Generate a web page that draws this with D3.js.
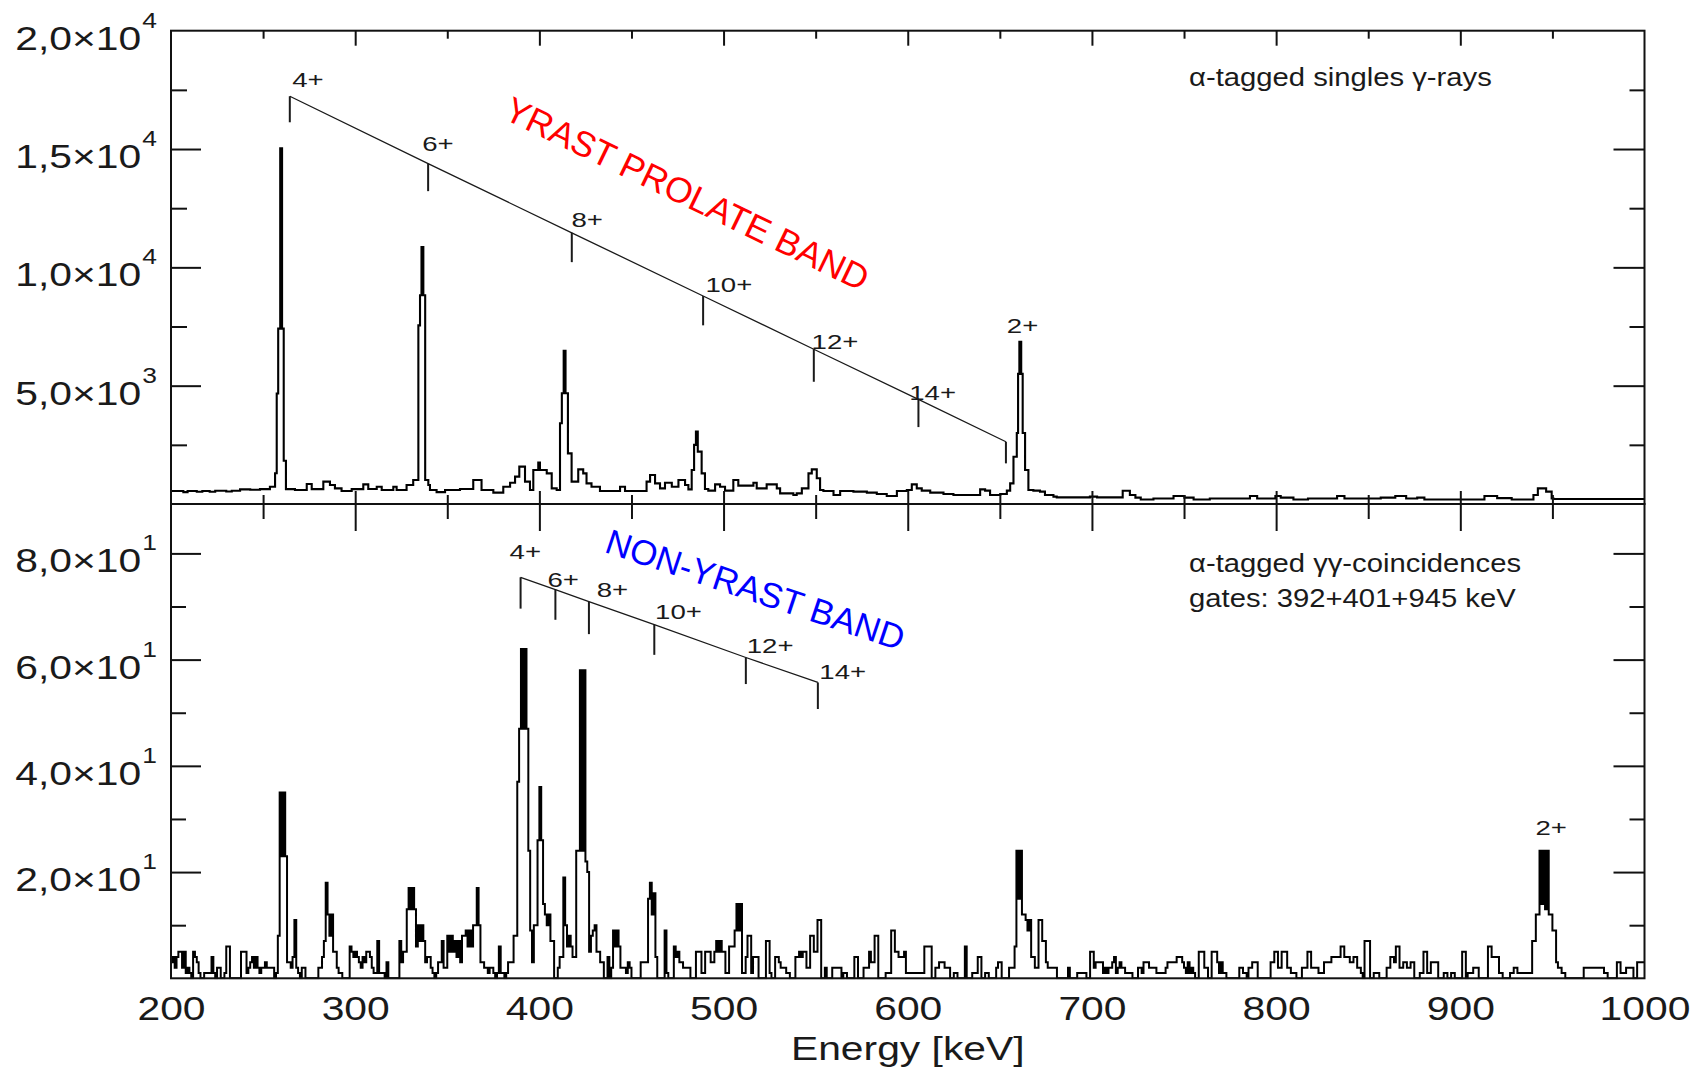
<!DOCTYPE html>
<html><head><meta charset="utf-8">
<script src="https://cdn.jsdelivr.net/npm/d3@7"></script>
<style>body{margin:0;background:#fff} svg{display:block}</style>
</head><body>
<svg id="chart" width="1700" height="1073"></svg>
<script>
// ---------- DATA ----------
// Top panel: alpha-tagged singles (step histogram: bin start energy [keV], counts)
const topE = [200,206.7,209,214,217,221,224,230,233,237.5,243,248.3,253.7,256.5,257.4,258.2,259.3,260.3,261.2,262.4,267.3,273.7,276.4,282.7,286.3,289,292.6,298.1,304.4,307.1,311.7,314.4,320.7,322.5,327.9,331.5,334.3,335.2,336.0,337.0,338.0,339.7,340.6,344.2,348.8,356.9,364.1,368.6,375,380.4,384.1,386.8,389.1,392.2,394.9,396.7,399.4,400.3,404,406.7,409.4,411.2,412.2,413.2,414.2,415.5,417.5,421.1,423.8,425.6,428.3,432.9,443.8,446.5,458.2,460.1,462.8,465.5,468.2,471.9,475.5,479.1,480.9,482.7,484.0,485.0,486.0,488.1,489.9,491.7,495.4,498.1,500.8,505.3,508,516.2,518,523.4,528.9,530.7,537.9,539.7,542.5,546.1,547.9,550.6,552.4,554.2,559.7,563.3,570.5,577.8,583.2,588.6,594.1,599.5,602.2,604.9,607.6,612.2,619.4,624.8,639.3,642,644.7,650.2,653.8,655.6,657.4,659.2,659.9,660.6,661.6,662.4,663.7,665.5,668.2,671.8,674.5,679.1,680.9,698.9,702.8,716.7,720.6,723.6,726.5,733.4,744.3,750.2,755.2,764,785.8,789.7,799.6,802.5,809.4,817.3,833.1,837.1,856.8,864.7,870.6,876.6,880.5,913.1,920,927.9,939.7,942.1,946.6,949.6,950.6];
const topC = [550,500,550,520,550,520,560,530,560,620,600,630,730,1300,4670,7410,15030,7410,1830,630,590,845,630,944,803,660,550,630,831,634,732,592,732,592,803,1014,7550,8820,10860,8820,1014,800,592,500,592,634,1014,592,479,732,901,1155,1578,944,592,1437,1747,1437,1296,662,592,3410,4680,6470,4680,2141,944,1465,1296,873,732,549,732,549,944,1226,873,662,901,732,1014,803,620,1437,2500,3057,2212,1296,634,564,831,732,564,1014,775,901,662,831,662,451,380,451,662,1296,1465,1085,592,549,380,549,521,479,423,338,549,592,831,662,564,479,423,380,620,564,380,423,564,873,1999,3000,5500,6850,5500,3000,1437,592,564,521,380,310,282,310,282,563,380,268,190,230,338,268,190,230,338,230,338,268,190,230,338,230,268,338,230,268,190,338,250,190,380,662,521,230,211];

// Bottom panel: gamma-gamma coincidences, 1 keV bins starting at 200 keV
const bottomStartE = 200;
const bottomC = [
// 200-299
3,4,2,4,5,5,2,5,1,2, 1,0,5,4,3,1,0,0,1,1, 1,1,4,1,0,2,2,0,0,1, 6,6,0,0,0,0,0,0,5,5, 5,1,2,3,4,2,4,2,1,2,
2,3,2,2,2,2,0,1,8,35, 23,35,23,3,3,2,4,11,2,1, 0,2,2,0,0,0,0,0,0,0, 2,2,4,7,18,12,8,12,5,5, 2,1,1,0,0,0,0,6,5,4,
// 300-399
5,4,3,2,4,3,5,5,4,2, 1,1,7,1,1,1,0,3,0,0, 0,0,0,0,7,3,5,5,13,17, 13,17,13,6,10,7,10,7,3,4, 4,2,1,0,1,3,3,7,2,2,
8,5,8,5,7,4,7,3,8,8, 9,6,9,6,10,10,17,10,3,3, 2,2,1,2,2,1,0,1,6,1, 1,0,1,3,3,3,8,8,37,47, 62,47,62,47,24,9,3,10,10,26,
// 400-499
36,26,14,12,10,12,7,7,0,0, 2,4,4,19,10,6,8,6,4,4, 24,24,58,24,58,22,20,5,8,9, 10,5,5,3,3,0,0,4,0,2, 9,6,9,6,2,2,2,1,3,2,
0,0,0,0,0,3,3,3,3,15, 18,12,16,4,0,0,0,0,9,1, 0,0,0,6,4,5,3,3,2,2, 2,2,0,0,0,5,5,5,1,1, 5,5,5,3,3,5,7,5,7,5,
// 500-599
5,1,1,6,6,6,9,14,9,14, 1,1,4,8,8,1,4,4,4,0, 0,0,0,7,7,1,0,0,4,4, 3,2,2,2,1,1,0,0,0,4, 4,5,4,5,5,2,2,8,8,5,
5,11,11,0,0,2,0,0,0,2, 2,2,2,2,0,1,1,0,0,0, 0,4,4,0,0,0,2,2,2,5, 3,3,8,8,0,0,0,0,1,1, 1,9,9,5,5,4,4,4,5,1,
// 600-699
1,1,1,1,1,1,1,1,1,6, 6,6,6,0,0,2,2,3,3,3, 2,2,2,0,0,1,1,0,0,0, 0,6,0,0,0,1,1,1,4,4, 0,0,1,1,0,0,0,0,2,3,
3,0,0,0,0,2,2,2,6,24, 15,24,12,12,11,9,11,4,4,2, 2,11,11,7,7,3,2,2,2,2, 2,0,0,0,0,0,0,2,0,0, 0,0,1,1,1,1,1,0,0,5,
// 700-799
5,2,3,3,3,3,1,2,1,2, 2,3,4,1,2,3,2,2,1,1, 1,1,0,0,0,2,2,1,3,3, 3,2,2,2,2,1,1,1,1,1, 2,3,3,3,3,3,4,4,4,3,
2,1,3,1,2,1,0,0,5,5, 5,2,2,0,0,5,5,5,3,1, 3,1,1,0,0,0,0,0,0,0, 2,2,1,1,0,2,2,3,3,3, 0,0,0,0,0,0,0,3,3,5,
// 800-899
5,2,2,5,5,5,2,2,1,1, 1,0,0,0,2,2,2,5,5,2, 2,2,2,1,1,1,3,3,3,3, 4,4,4,4,4,6,6,4,4,4, 3,3,4,4,2,2,1,0,7,7,
7,0,0,1,1,1,0,0,0,0, 2,2,4,4,3,6,6,2,2,3, 3,2,2,3,3,0,0,0,1,1, 5,5,1,1,3,3,3,3,0,0, 0,1,1,0,0,1,1,0,0,0,
// 900-999
0,5,5,0,1,1,1,2,2,2, 0,0,0,0,0,6,6,4,4,4, 4,1,1,0,0,0,0,1,1,2, 2,1,1,1,1,1,1,1,1,7, 7,12,12,24,14,24,13,24,12,12,
9,9,3,2,2,1,1,0,0,0, 0,0,0,0,0,0,0,2,2,2, 2,2,2,2,2,2,2,2,1,1, 0,0,0,0,0,3,3,1,1,1, 2,2,2,2,0,0,3,3,3,3
];

// Axis ticks
const xTickValues = [200,300,400,500,600,700,800,900,1000];
const xMajor = [300,400,500,600,700,800,900];
const xMinor = [250,350,450,550,650,750,850,950];
const topMajor = [5000,10000,15000];
const topMinor = [2500,7500,12500,17500];
const topLabelValues = [5000,10000,15000,20000];
const topLabelMant = ["5,0×10","1,0×10","1,5×10","2,0×10"];
const topLabelExp = ["3","4","4","4"];
const botMajor = [20,40,60,80];
const botMinor = [10,30,50,70];
const botLabelMant = ["2,0×10","4,0×10","6,0×10","8,0×10"];
const botLabelExp = ["1","1","1","1"];

// Yrast prolate band markers (top panel)
const yrastE     = [264.5,339.6,417.6,488.9,549.0,605.8,653.3];
const yrastLineC = [17230,14380,11460,8790,6540,4420,2630];
const yrastLowC  = [16130,13220,10220,7550,5165,3250,1717];
const yrastLabels = ["4+","6+","8+","10+","12+","14+","2+"];
const yrastLabelE = [265.8,336.4,417.4,490.2,547.8,600.8,653.8];
const yrastLabelC = [17620,14918,11706,8959,6550,4395,7226];

// Non-yrast band markers (bottom panel)
const nyE     = [389.8,408.7,426.9,462.4,512.1,551.2];
const nyLineC = [75.5,73.2,70.9,66.6,60.4,55.7];
const nyLowC  = [69.6,67.5,64.8,60.9,55.4,50.7];
const nyLabels = ["4+","6+","8+","10+","12+","14+","2+"];
const nyLabelE = [383.8,404.4,431.1,462.8,512.6,552.0,940.8];
const nyLabelC = [78.9,73.75,71.85,67.65,61.2,56.3,27.0];

// ---------- DRAW ----------
const FONT = "'Liberation Sans', Arial, Helvetica, sans-serif";
const INK = "#1a1a1a";
const svg = d3.select("#chart");
svg.append("rect").attr("width",1700).attr("height",1073).attr("fill","#fff");

const L = 171, R = 1644.5, T = 30.7, MID = 504, B = 978.3;
const x = d3.scaleLinear().domain([200,1000]).range([L,R]);
const yTop = d3.scaleLinear().domain([0,20000]).range([MID,T]);
const yBot = d3.scaleLinear().domain([0,89.3]).range([B,MID]);

// clips
const defs = svg.append("defs");
defs.append("clipPath").attr("id","clipTop").append("rect").attr("x",L).attr("y",T).attr("width",R-L).attr("height",MID-T);
defs.append("clipPath").attr("id","clipBot").append("rect").attr("x",L).attr("y",MID).attr("width",R-L).attr("height",B-MID+1);

// spectra
const topPts = topE.map((e,i)=>[e, topC[i]]);
topPts.push([1000, topC[topC.length-1]]);
const botPts = bottomC.map((c,i)=>[bottomStartE+i, c]);
botPts.push([1000, bottomC[bottomC.length-1]]);

svg.append("path").attr("clip-path","url(#clipTop)")
  .attr("d", d3.line().x(d=>x(d[0])).y(d=>yTop(d[1])).curve(d3.curveStepAfter)(topPts))
  .attr("fill","none").attr("stroke","#000").attr("stroke-width",2.1).attr("stroke-linejoin","miter");
svg.append("path").attr("clip-path","url(#clipBot)")
  .attr("d", d3.line().x(d=>x(d[0])).y(d=>yBot(d[1])).curve(d3.curveStepAfter)(botPts))
  .attr("fill","none").attr("stroke","#000").attr("stroke-width",2.0).attr("stroke-linejoin","miter");

// ticks
function ticks(axis, tr){
  const g = svg.append("g").attr("transform", tr).call(axis);
  g.select(".domain").remove();
  g.selectAll("text").remove();
  g.selectAll("line").attr("stroke","#111").attr("stroke-width",2);
}
const nf = d3.format("");
ticks(d3.axisRight(yTop).tickValues(topMajor).tickSize(30).tickFormat(nf), `translate(${L},0)`);
ticks(d3.axisRight(yTop).tickValues(topMinor).tickSize(16).tickFormat(nf), `translate(${L},0)`);
ticks(d3.axisLeft(yTop).tickValues(topMajor).tickSize(31).tickFormat(nf), `translate(${R},0)`);
ticks(d3.axisLeft(yTop).tickValues(topMinor).tickSize(15).tickFormat(nf), `translate(${R},0)`);
ticks(d3.axisBottom(x).tickValues(xMajor).tickSize(15).tickFormat(nf), `translate(0,${T})`);
ticks(d3.axisBottom(x).tickValues(xMinor).tickSize(8).tickFormat(nf), `translate(0,${T})`);
ticks(d3.axisTop(x).tickValues(xMajor).tickSize(13).tickFormat(nf), `translate(0,${MID})`);
ticks(d3.axisTop(x).tickValues(xMinor).tickSize(9).tickFormat(nf), `translate(0,${MID})`);
ticks(d3.axisBottom(x).tickValues(xMajor).tickSize(27).tickFormat(nf), `translate(0,${MID})`);
ticks(d3.axisBottom(x).tickValues(xMinor).tickSize(15).tickFormat(nf), `translate(0,${MID})`);
ticks(d3.axisRight(yBot).tickValues(botMajor).tickSize(30).tickFormat(nf), `translate(${L},0)`);
ticks(d3.axisRight(yBot).tickValues(botMinor).tickSize(15).tickFormat(nf), `translate(${L},0)`);
ticks(d3.axisLeft(yBot).tickValues(botMajor).tickSize(31).tickFormat(nf), `translate(${R},0)`);
ticks(d3.axisLeft(yBot).tickValues(botMinor).tickSize(15).tickFormat(nf), `translate(${R},0)`);

// frames
svg.append("rect").attr("x",L).attr("y",T).attr("width",R-L).attr("height",MID-T)
  .attr("fill","none").attr("stroke","#111").attr("stroke-width",2);
svg.append("rect").attr("x",L).attr("y",MID).attr("width",R-L).attr("height",B-MID)
  .attr("fill","none").attr("stroke","#111").attr("stroke-width",2);

// stretched text helper
function stext(px, py, str, size, sx, anchor, fill){
  const t = svg.append("g").attr("transform",`translate(${px},${py}) scale(${sx},1)`)
    .append("text").attr("x",0).attr("y",0)
    .attr("font-family",FONT).attr("font-size",size)
    .attr("text-anchor",anchor||"start").attr("fill",fill||INK).text(str);
  return t;
}
function sciLabel(py, mant, exp){
  const g = svg.append("g").attr("transform",`translate(157,${py}) scale(1.2,1)`);
  const t = g.append("text").attr("font-family",FONT).attr("font-size",34)
    .attr("text-anchor","end").attr("fill",INK);
  t.append("tspan").text(mant);
  t.append("tspan").attr("font-size",22).attr("dy",-22).attr("dx",1).text(exp);
}
topLabelValues.forEach((v,i)=> sciLabel(yTop(v)+19, topLabelMant[i], topLabelExp[i]));
botMajor.forEach((v,i)=> sciLabel(yBot(v)+19, botLabelMant[i], botLabelExp[i]));

// x tick labels
const xa = svg.append("g").attr("transform",`translate(0,${B})`)
  .call(d3.axisBottom(x).tickValues(xTickValues).tickSize(0).tickFormat(d3.format("d")));
xa.select(".domain").remove();
xa.selectAll("text").attr("y",42).attr("dy",0).attr("font-size",34).attr("font-family",FONT)
  .attr("fill",INK).attr("transform","scale(1.2,1)");

stext((L+R)/2, 1060, "Energy [keV]", 34, 1.2, "middle");

// panel captions
stext(1189, 86, "α-tagged singles γ-rays", 25, 1.17);
stext(1189, 572, "α-tagged γγ-coincidences", 25, 1.17);
stext(1189, 607, "gates: 392+401+945 keV", 25, 1.17);

// band markers
function band(E, lineC, lowC, ys){
  const pts = E.map((e,i)=>[x(e), ys(lineC[i])]);
  svg.append("path").attr("d", d3.line()(pts)).attr("fill","none")
    .attr("stroke",INK).attr("stroke-width",1.3);
  E.forEach((e,i)=>{
    svg.append("line").attr("x1",x(e)).attr("x2",x(e))
      .attr("y1",ys(lineC[i])).attr("y2",ys(lowC[i]))
      .attr("stroke",INK).attr("stroke-width",2);
  });
}
band(yrastE, yrastLineC, yrastLowC, yTop);
band(nyE, nyLineC, nyLowC, yBot);

yrastLabels.forEach((s,i)=> stext(x(yrastLabelE[i]), yTop(yrastLabelC[i]), s, 20, 1.38));
nyLabels.forEach((s,i)=> stext(x(nyLabelE[i]), yBot(nyLabelC[i]), s, 20, 1.38));

// band names
svg.append("text").attr("transform","translate(502,118) rotate(25.8)")
  .attr("font-family",FONT).attr("font-size",35.5).attr("fill","#ff0000").text("YRAST PROLATE BAND");
svg.append("text").attr("transform","translate(603.3,551.7) rotate(18.5)")
  .attr("font-family",FONT).attr("font-size",35).attr("fill","#0000ff").text("NON-YRAST BAND");
</script>
</body></html>
